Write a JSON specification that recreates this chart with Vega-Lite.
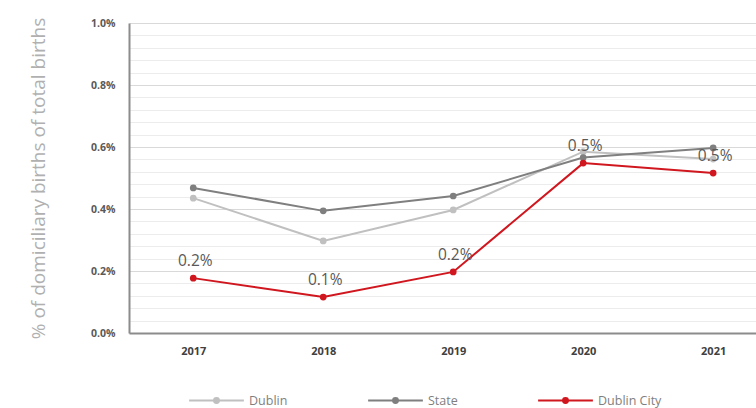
{
  "$schema": "https://vega.github.io/schema/vega-lite/v6.json",
  "width": 627,
  "height": 310,
  "autosize": {"type": "none"},
  "padding": {"left": 129, "top": 23, "right": 0, "bottom": 75},
  "background": "white",
  "config": {"view": {"stroke": null}, "font": "Open Sans"},
  "data": {
    "values": [
      {"year": "2017", "series": "Dublin", "value": 0.435},
      {"year": "2018", "series": "Dublin", "value": 0.297},
      {"year": "2019", "series": "Dublin", "value": 0.397},
      {"year": "2020", "series": "Dublin", "value": 0.585},
      {"year": "2021", "series": "Dublin", "value": 0.561},
      {"year": "2017", "series": "State", "value": 0.468},
      {"year": "2018", "series": "State", "value": 0.394},
      {"year": "2019", "series": "State", "value": 0.442},
      {"year": "2020", "series": "State", "value": 0.566},
      {"year": "2021", "series": "State", "value": 0.597},
      {"year": "2017", "series": "Dublin City", "value": 0.177},
      {"year": "2018", "series": "Dublin City", "value": 0.116},
      {"year": "2019", "series": "Dublin City", "value": 0.197},
      {"year": "2020", "series": "Dublin City", "value": 0.548},
      {"year": "2021", "series": "Dublin City", "value": 0.516}
    ]
  },
  "encoding": {
    "x": {
      "field": "year",
      "type": "ordinal",
      "scale": {"type": "point", "padding": 0.412, "align": 0.6},
      "axis": {
        "title": null,
        "labelAngle": 0,
        "ticks": false,
        "domain": true,
        "domainColor": "#8c8c8c",
        "domainWidth": 2,
        "grid": false,
        "labelPadding": 12,
        "labelFontSize": 11,
        "labelFontWeight": "bold",
        "labelColor": "#404040"
      }
    }
  },
  "layer": [
    {
      "mark": {"type": "rule", "opacity": 0},
      "encoding": {
        "y": {
          "field": "value",
          "type": "quantitative",
          "scale": {"domain": [0, 1]},
          "axis": {
            "orient": "left",
            "values": [0.04, 0.08, 0.12, 0.16, 0.24, 0.28, 0.32, 0.36, 0.44, 0.48, 0.52, 0.56, 0.64, 0.68, 0.72, 0.76, 0.84, 0.88, 0.92, 0.96],
            "labels": false,
            "ticks": false,
            "domain": false,
            "title": null,
            "grid": true,
            "gridColor": "#ececec",
            "gridWidth": 1,
            "zindex": 0
          }
        }
      }
    },
    {
      "mark": {"type": "line", "strokeWidth": 2},
      "encoding": {
        "y": {
          "field": "value",
          "type": "quantitative",
          "scale": {"domain": [0, 1]},
          "axis": {
            "orient": "left",
            "values": [0, 0.2, 0.4, 0.6, 0.8, 1.0],
            "labelExpr": "format(datum.value, '.1f') + '%'",
            "ticks": false,
            "domain": true,
            "domainColor": "#8c8c8c",
            "domainWidth": 2,
            "grid": true,
            "gridColor": "#d9d9d9",
            "gridWidth": 1,
            "labelPadding": 14,
            "labelFontSize": 10.5,
            "labelFontWeight": "bold",
            "labelColor": "#595959",
            "title": "% of domiciliary births of total births",
            "titleFont": "Open Sans",
            "titleFontSize": 19,
            "titleFontWeight": "normal",
            "titleColor": "#b0b0b0",
            "titlePadding": 42
          }
        },
        "color": {
          "field": "series",
          "type": "nominal",
          "scale": {"domain": ["Dublin", "State", "Dublin City"], "range": ["#c0c0c0", "#7f7f7f", "#d0161e"]},
          "legend": {
            "orient": "none",
            "legendX": 59,
            "legendY": 349,
            "direction": "horizontal",
            "title": null,
            "symbolType": "M-1,0L1,0M-0.09,0a0.09,0.09 0 1,0 0.18,0a0.09,0.09 0 1,0 -0.18,0",
            "symbolSize": 3000,
            "symbolStrokeWidth": 2,
            "labelFont": "Open Sans",
            "labelFontSize": 12.5,
            "labelColor": "#7f7f7f",
            "labelOffset": 4,
            "columnPadding": 76,
            "encode": {"symbols": {"update": {"fill": {"scale": "color", "field": "value"}}}}
          }
        }
      }
    },
    {
      "mark": {"type": "point", "filled": true, "size": 45, "opacity": 1},
      "encoding": {
        "y": {"field": "value", "type": "quantitative", "axis": null},
        "color": {"field": "series", "type": "nominal"}
      }
    },
    {
      "transform": [
        {"filter": "datum.series === 'Dublin City'"},
        {"calculate": "format(datum.value, '.1f') + '%'", "as": "label"}
      ],
      "mark": {"type": "text", "dy": -17, "dx": 2, "fontSize": 15.5, "color": "#595959", "font": "Open Sans"},
      "encoding": {
        "y": {"field": "value", "type": "quantitative", "axis": null},
        "text": {"field": "label", "type": "nominal"}
      }
    }
  ],
  "resolve": {"axis": {"y": "independent"}}
}
